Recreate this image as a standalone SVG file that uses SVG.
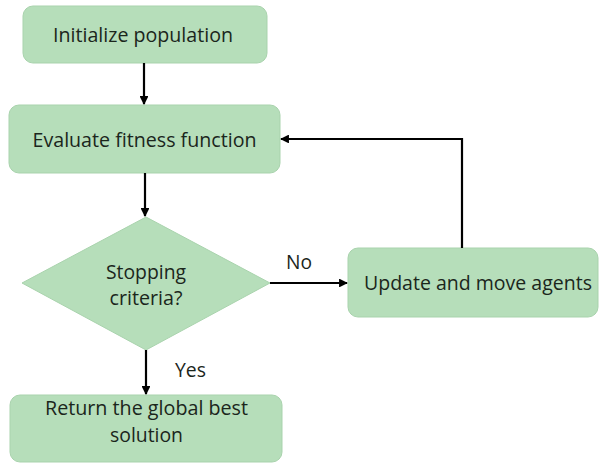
<svg xmlns="http://www.w3.org/2000/svg" width="600" height="463" viewBox="0 0 600 463">
  <style>
    .box { fill: #b6deba; stroke: #a9d3ad; stroke-width: 1; }
    .lbl { font-family: "Open Sans", "Noto Sans", sans-serif; font-size: 20px; fill: #1b261c; text-anchor: middle; }
    .tag { font-family: "Open Sans", "Noto Sans", sans-serif; font-size: 20px; fill: #1b261c; }
    .wire { fill: none; stroke: #000; stroke-width: 2.2; }
  </style>
  <defs>
    <marker id="head" viewBox="0 0 10 10" refX="9" refY="5" markerWidth="4" markerHeight="4" orient="auto" markerUnits="strokeWidth">
      <path d="M0,0 L10,5 L0,10 Z" fill="#000"/>
    </marker>
  </defs>
  <rect width="600" height="463" fill="#fff"/>

  <g id="init">
    <rect class="box" x="23" y="6" width="244" height="57" rx="10"/>
    <text class="lbl" x="143" y="42" textLength="180" lengthAdjust="spacingAndGlyphs">Initialize population</text>
  </g>

  <g id="evaluate">
    <rect class="box" x="9" y="105" width="271" height="68" rx="10"/>
    <text class="lbl" x="144.5" y="147" textLength="224" lengthAdjust="spacingAndGlyphs">Evaluate fitness function</text>
  </g>

  <g id="stop">
    <polygon class="box" points="146,217 270,283 146,350 22,283"/>
    <text class="lbl" x="146" y="279" textLength="80" lengthAdjust="spacingAndGlyphs">Stopping</text>
    <text class="lbl" x="146" y="305" textLength="73" lengthAdjust="spacingAndGlyphs">criteria?</text>
  </g>

  <g id="update">
    <rect class="box" x="348" y="248" width="250" height="69" rx="10"/>
    <text class="lbl" x="478" y="290" textLength="228" lengthAdjust="spacingAndGlyphs">Update and move agents</text>
  </g>

  <g id="result">
    <rect class="box" x="10" y="395" width="272" height="67" rx="10"/>
    <text class="lbl" x="146.5" y="415" textLength="203" lengthAdjust="spacingAndGlyphs">Return the global best</text>
    <text class="lbl" x="146.5" y="442" textLength="73" lengthAdjust="spacingAndGlyphs">solution</text>
  </g>

  <g id="connectors">
    <line class="wire" x1="144" y1="63" x2="144" y2="104" marker-end="url(#head)"/>
    <line class="wire" x1="145" y1="173" x2="145" y2="216" marker-end="url(#head)"/>
    <line class="wire" x1="146" y1="350" x2="146" y2="394" marker-end="url(#head)"/>
    <line class="wire" x1="270" y1="283" x2="347" y2="283" marker-end="url(#head)"/>
    <polyline class="wire" points="462,248 462,139 281,139" marker-end="url(#head)"/>
    <text class="tag" x="175" y="377" textLength="31" lengthAdjust="spacingAndGlyphs">Yes</text>
    <text class="tag" x="286" y="269" textLength="26" lengthAdjust="spacingAndGlyphs">No</text>
  </g>
</svg>
